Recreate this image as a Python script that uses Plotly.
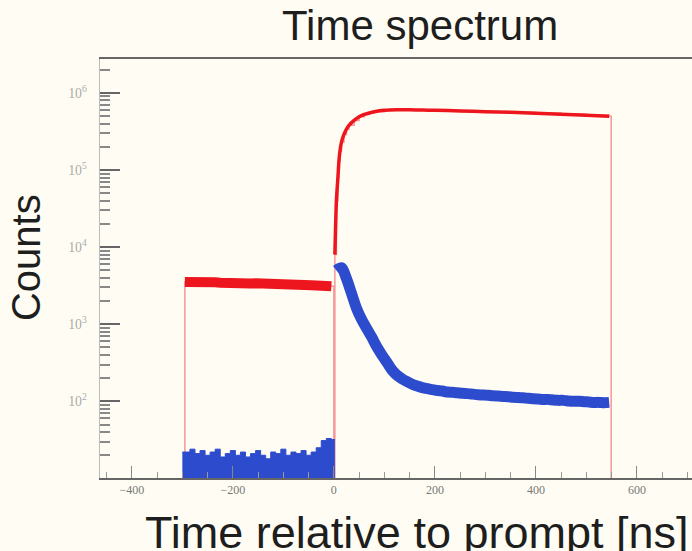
import plotly.graph_objects as go

# ---------------- data ----------------
# bin centres, ns
pre_t = [-295 + 10 * i for i in range(30)]

red_pre = [3520, 3560, 3480, 3540, 3500, 3470, 3510, 3450, 3480, 3430,
           3440, 3400, 3420, 3380, 3390, 3350, 3360, 3320, 3330, 3290,
           3280, 3300, 3250, 3240, 3220, 3200, 3190, 3150, 3130, 3100]

blue_pre = [22, 24, 21, 23, 20, 22, 24, 19, 21, 23,
            20, 22, 19, 21, 23, 20, 18, 22, 21, 24,
            20, 22, 21, 23, 20, 22, 25, 31, 33, 32]

red_post_t = [2, 5, 8, 10, 12, 15, 20, 25, 30, 40, 50, 60, 70, 80, 100, 125,
              150, 175, 200, 250, 300, 350, 400, 450, 500, 545]
red_post = [8000, 40000, 80000, 130000, 175000, 230000, 290000, 340000,
            380000, 440000, 490000, 525000, 550000, 570000, 595000, 605000,
            605000, 600000, 595000, 585000, 570000, 560000, 545000, 530000,
            515000, 500000]

blue_post_t = [5 + 10 * i for i in range(55)]
blue_post = [5000, 5400, 3900, 2500, 1600, 1150, 880, 680, 510, 400,
             320, 255, 218, 196, 180, 167, 158, 151, 146, 142,
             138, 136, 132, 131, 129, 127, 126, 124, 122, 121,
             120, 118, 117, 116, 115, 113, 112, 111, 110, 108,
             107, 106, 106, 104, 103, 103, 101, 100, 100, 99,
             98, 97, 97, 96, 97]

# empty bins just outside the filled ranges (0 counts)
edge_lo, edge_mid, edge_hi = -305, 0, 549

FLOOR = 0.5  # where empty bins are drawn on the log axis (below the frame)

def clip(vals):
    return [v if v > 0 else FLOOR for v in vals]

RED = "rgb(238,22,30)"
PINK = "rgba(235,70,80,0.55)"
BLUE = "rgb(45,75,205)"

fig = go.Figure()

# thin outline of the red histogram, including drops to empty bins
red_line_x = [edge_lo] + pre_t + [edge_mid] + red_post_t + [edge_hi]
red_line_y = clip([0] + red_pre + [0] + red_post + [0])
fig.add_trace(go.Scatter(x=red_line_x, y=red_line_y, mode="lines",
                         line=dict(color=PINK, width=1.5, shape="hv"),
                         hoverinfo="skip", showlegend=False))

# blue background before prompt, drawn down to the axis
fig.add_trace(go.Scatter(x=[edge_lo + 5] + pre_t + [edge_mid + 2],
                         y=clip([blue_pre[0]] + blue_pre + [blue_pre[-1]]),
                         mode="lines", fill="tozeroy", fillcolor=BLUE,
                         line=dict(color=BLUE, width=1, shape="hv"),
                         showlegend=False))

# red band before prompt
fig.add_trace(go.Scatter(x=pre_t, y=red_pre, mode="lines",
                         line=dict(color=RED, width=10),
                         showlegend=False))

# red after prompt
fig.add_trace(go.Scatter(x=red_post_t, y=red_post, mode="lines",
                         line=dict(color=RED, width=3.5, shape="spline", smoothing=0.6),
                         showlegend=False))

# blue after prompt
fig.add_trace(go.Scatter(x=blue_post_t, y=blue_post, mode="lines",
                         line=dict(color=BLUE, width=11, shape="spline", smoothing=0.8),
                         showlegend=False))

TXT = "#1e1e1e"
fig.update_layout(
    width=692, height=551,
    margin=dict(l=100, r=0, t=59, b=73),
    paper_bgcolor="#fffdf3", plot_bgcolor="#fffdf3",
    showlegend=False,
    annotations=[
        dict(text="Time spectrum", xref="paper", yref="paper",
             x=0.54, y=1, yanchor="bottom", yshift=8, showarrow=False,
             font=dict(family="Liberation Sans", size=42, color=TXT)),
        dict(text="Time relative to prompt [ns]", xref="paper", yref="paper",
             x=0.535, y=0, yanchor="top", yshift=-27, showarrow=False,
             font=dict(family="Liberation Sans", size=45, color=TXT)),
        dict(text="Counts", xref="paper", yref="paper", textangle=-90,
             x=0, xanchor="right", xshift=-50, y=0.525, showarrow=False,
             font=dict(family="Liberation Sans", size=40, color=TXT)),
    ],
)

fig.update_xaxes(range=[-463, 709], showgrid=False, zeroline=False,
                 showline=True, linecolor="#666", linewidth=1.5, mirror=True,
                 ticks="inside", ticklen=12, tickcolor="#888", tickwidth=1,
                 tick0=0, dtick=200,
                 minor=dict(ticks="inside", ticklen=6, dtick=50, tickcolor="#999"),
                 tickfont=dict(family="Liberation Serif", size=12, color="#777"))

fig.update_yaxes(type="log", range=[1.006, 6.44], showgrid=False, zeroline=False,
                 showline=True, linecolor="#bbb", linewidth=1,
                 ticks="inside", ticklen=20, tickcolor="#666", tickwidth=1.5,
                 dtick=1, exponentformat="power", ticklabelstandoff=10,
                 minor=dict(ticks="inside", ticklen=10, dtick="D1", tickcolor="#888"),
                 tickfont=dict(family="Liberation Serif", size=11, color="#aaa"))

fig.write_html("out.html", config={"displayModeBar": False},
               post_script="document.body.style.margin='0';")
